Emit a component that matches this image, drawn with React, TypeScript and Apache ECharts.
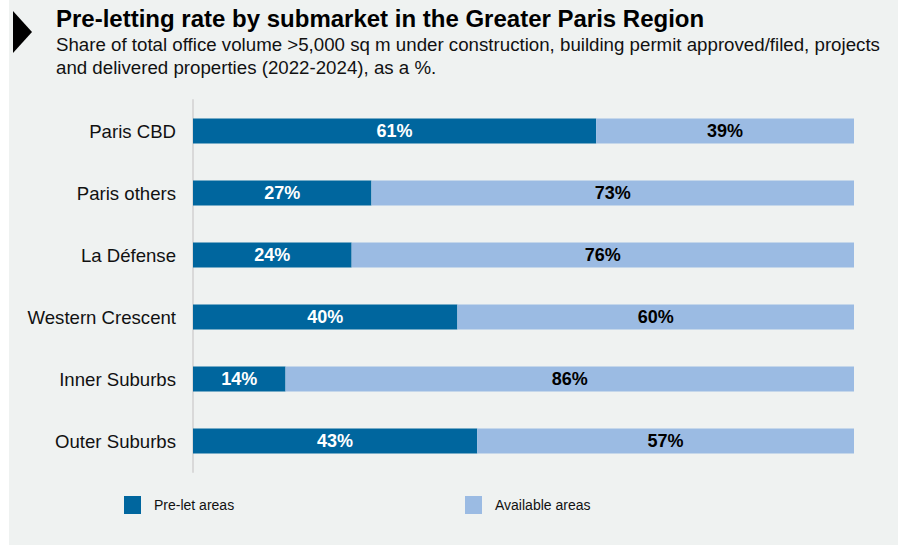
import React, { useEffect, useRef } from "react";
import * as echarts from "echarts";

const categories = ["Paris CBD", "Paris others", "La Défense", "Western Crescent", "Inner Suburbs", "Outer Suburbs"];
const preLet = [61, 27, 24, 40, 14, 43];
const available = [39, 73, 76, 60, 86, 57];
const seriesNames = ["Pre-let areas", "Available areas"];
const titleText = "Pre-letting rate by submarket in the Greater Paris Region";
const subtitleText = "Share of total office volume >5,000 sq m under construction, building permit approved/filed, projects\nand delivered properties (2022-2024), as a %.";

const FONT = "'Liberation Sans', Arial, sans-serif";
const DARK = "#00669e";
const LIGHT = "#9bbbe3";

export default function App() {
  const ref = useRef<HTMLDivElement>(null);
  useEffect(() => {
    const chart = echarts.init(ref.current!, null, { renderer: "svg" });
    chart.setOption({
      animation: false,
      backgroundColor: "#ffffff",
      textStyle: { fontFamily: FONT },
      graphic: [
        { type: "rect", z: -10, shape: { x: 9, y: 0, width: 889, height: 545 }, style: { fill: "#eff2f1" } },
        { type: "polygon", shape: { points: [[13, 11], [32, 32], [13, 53]] }, style: { fill: "#000" } },
      ],
      title: [
        {
          text: titleText,
          left: 56,
          top: 6,
          padding: 0,
          textStyle: { fontFamily: FONT, fontSize: 24, fontWeight: "bold", color: "#000" },
        },
        {
          text: subtitleText,
          left: 56,
          top: 33,
          padding: 0,
          textStyle: { fontFamily: FONT, fontSize: 18.7, fontWeight: "normal", color: "#111", lineHeight: 23 },
        },
      ],
      legend: [
        {
          data: [seriesNames[0]], left: 119, top: 491, itemWidth: 17, itemHeight: 18,
          icon: "rect",
          textStyle: { fontFamily: FONT, fontSize: 14, color: "#111", padding: [0, 0, 0, 8] },
        },
        {
          data: [seriesNames[1]], left: 460, top: 491, itemWidth: 17, itemHeight: 18,
          icon: "rect",
          textStyle: { fontFamily: FONT, fontSize: 14, color: "#111", padding: [0, 0, 0, 8] },
        },
      ],
      grid: { left: 193, right: 44, top: 100, height: 372 },
      xAxis: { type: "value", min: 0, max: 100, show: false },
      yAxis: {
        type: "category",
        data: categories,
        inverse: true,
        axisLine: { show: true, lineStyle: { color: "#d9d9d9", width: 2 } },
        axisTick: { show: false },
        axisLabel: { fontFamily: FONT, fontSize: 18.6, color: "#111", margin: 17 },
      },
      series: [
        {
          name: seriesNames[0], type: "bar", stack: "a", data: preLet, barWidth: 25,
          itemStyle: { color: DARK },
          label: { show: true, position: "inside", formatter: "{c}%", color: "#fff", fontWeight: "bold", fontSize: 18, fontFamily: FONT },
        },
        {
          name: seriesNames[1], type: "bar", stack: "a", data: available, barWidth: 25,
          itemStyle: { color: LIGHT },
          label: { show: true, position: "inside", formatter: "{c}%", color: "#000", fontWeight: "bold", fontSize: 18, fontFamily: FONT },
        },
      ],
    });
    return () => chart.dispose();
  }, []);
  return <div ref={ref} style={{ position: "fixed", left: 0, top: 0, width: 898, height: 545 }} />;
}
